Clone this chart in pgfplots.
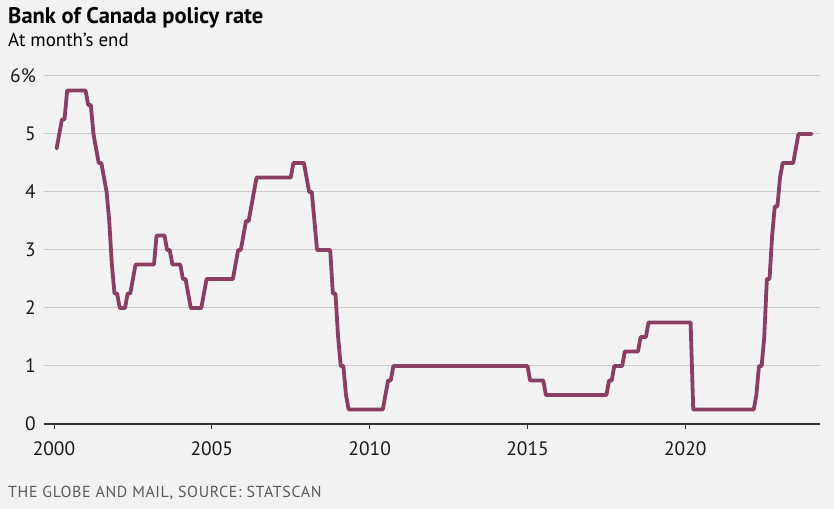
\documentclass[border=0pt]{standalone}
\usepackage{fontspec}
\setmainfont{PT Sans}
\newfontfamily\footfont[LetterSpace=4]{PT Sans}
\usepackage{pgfplots}
\usepackage{pgfplotstable}
\pgfplotsset{compat=1.18}
\definecolor{bg}{HTML}{F2F2F2}
\definecolor{ratecol}{HTML}{8A3E63}
\definecolor{gridcol}{HTML}{CCCCCC}
\definecolor{axiscol}{HTML}{333333}
\definecolor{footcol}{HTML}{5A5A5A}
\pgfplotstableread{
m v
1 4.75
2 5.00
3 5.25
4 5.25
5 5.75
6 5.75
7 5.75
8 5.75
9 5.75
10 5.75
11 5.75
12 5.75
13 5.50
14 5.50
15 5.00
16 4.75
17 4.50
18 4.50
19 4.25
20 4.00
21 3.50
22 2.75
23 2.25
24 2.25
25 2.00
26 2.00
27 2.00
28 2.25
29 2.25
30 2.50
31 2.75
32 2.75
33 2.75
34 2.75
35 2.75
36 2.75
37 2.75
38 2.75
39 3.25
40 3.25
41 3.25
42 3.25
43 3.00
44 3.00
45 2.75
46 2.75
47 2.75
48 2.75
49 2.50
50 2.50
51 2.25
52 2.00
53 2.00
54 2.00
55 2.00
56 2.00
57 2.25
58 2.50
59 2.50
60 2.50
61 2.50
62 2.50
63 2.50
64 2.50
65 2.50
66 2.50
67 2.50
68 2.50
69 2.75
70 3.00
71 3.00
72 3.25
73 3.50
74 3.50
75 3.75
76 4.00
77 4.25
78 4.25
79 4.25
80 4.25
81 4.25
82 4.25
83 4.25
84 4.25
85 4.25
86 4.25
87 4.25
88 4.25
89 4.25
90 4.25
91 4.50
92 4.50
93 4.50
94 4.50
95 4.50
96 4.25
97 4.00
98 4.00
99 3.50
100 3.00
101 3.00
102 3.00
103 3.00
104 3.00
105 3.00
106 2.25
107 2.25
108 1.50
109 1.00
110 1.00
111 0.50
112 0.25
113 0.25
114 0.25
115 0.25
116 0.25
117 0.25
118 0.25
119 0.25
120 0.25
121 0.25
122 0.25
123 0.25
124 0.25
125 0.25
126 0.50
127 0.75
128 0.75
129 1.00
130 1.00
131 1.00
132 1.00
144 1.00
156 1.00
168 1.00
180 1.00
181 0.75
182 0.75
183 0.75
184 0.75
185 0.75
186 0.75
187 0.50
188 0.50
189 0.50
190 0.50
191 0.50
192 0.50
204 0.50
205 0.50
206 0.50
207 0.50
208 0.50
209 0.50
210 0.50
211 0.75
212 0.75
213 1.00
214 1.00
215 1.00
216 1.00
217 1.25
218 1.25
219 1.25
220 1.25
221 1.25
222 1.25
223 1.50
224 1.50
225 1.50
226 1.75
227 1.75
228 1.75
240 1.75
241 1.75
242 1.75
243 0.25
244 0.25
252 0.25
264 0.25
265 0.25
266 0.25
267 0.50
268 1.00
269 1.00
270 1.50
271 2.50
272 2.50
273 3.25
274 3.75
275 3.75
276 4.25
277 4.50
278 4.50
279 4.50
280 4.50
281 4.50
282 4.75
283 5.00
284 5.00
285 5.00
286 5.00
287 5.00
288 5.00
}\ratetable
\begin{document}
\begin{tikzpicture}[x=1bp,y=1bp]
\fill[bg] (0,0) rectangle (834,509);
\useasboundingbox (0,0) rectangle (834,509);
\node[anchor=base west, inner sep=0pt, font=\fontsize{22.6}{26}\selectfont\bfseries] at (8,485) {Bank of Canada policy rate};
\node[anchor=base west, inner sep=0pt, font=\fontsize{19}{22}\selectfont] at (8,462.5) {At month's end};
\node[anchor=base west, inner sep=0pt, font=\footfont\fontsize{16}{18}\selectfont, text=footcol] at (8,11) {THE GLOBE AND MAIL, SOURCE: STATSCAN};
\begin{axis}[
  at={(44bp,85bp)}, anchor=south west,
  scale only axis, width=776bp, height=348bp,
  xmin=-3.8, xmax=291.2, ymin=0, ymax=6,
  axis x line*=bottom, axis y line*=left,
  y axis line style={draw=none},
  x axis line style={line width=2bp, color=axiscol, -},
  ytick={0,1,2,3,4,5,6},
  yticklabels={0,1,2,3,4,5,6\%},
  xtick={0,60,120,180,240},
  xticklabels={2000,2005,2010,2015,2020},
  ymajorgrids, grid style={gridcol, line width=1bp},
  ytick style={draw=none},
  xtick style={color=axiscol, line width=0.8bp},
  tick align=outside, major tick length=5bp,
  ticklabel style={font=\fontsize{19.5}{22}\selectfont, text=black!90},
  yticklabel style={inner sep=0pt, anchor=east, xshift=-3bp},
  xticklabel style={inner sep=0pt, anchor=base, yshift=-27bp},
  clip=false,
]
\addplot[ratecol, line width=3.8bp, line join=round, line cap=round] table[x=m, y=v] {\ratetable};
\end{axis}
\end{tikzpicture}
\end{document}
